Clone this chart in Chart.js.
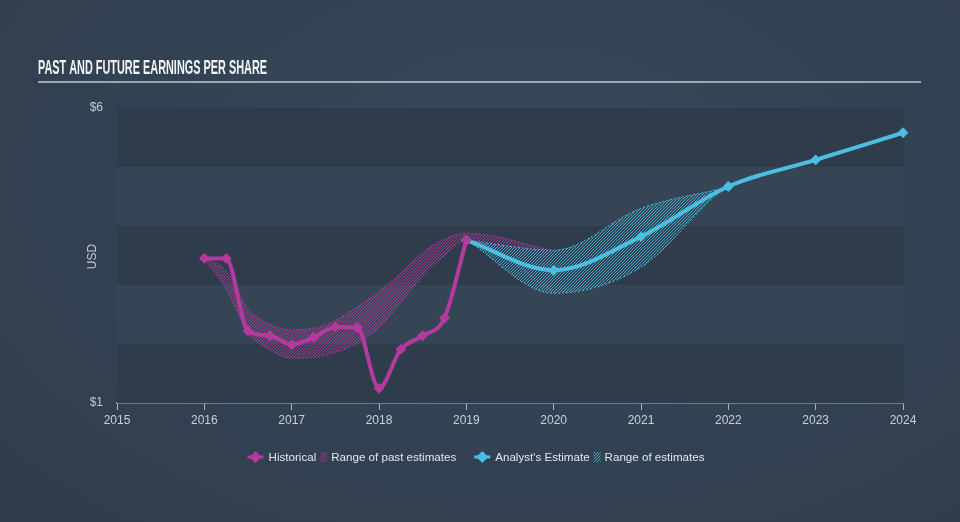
<!DOCTYPE html>
<html>
<head>
<meta charset="utf-8">
<script src="https://cdn.jsdelivr.net/npm/chart.js@4.4.0/dist/chart.umd.min.js"></script>
<style>
  html, body { margin: 0; padding: 0; }
  body {
    width: 960px; height: 522px; overflow: hidden;
    background: radial-gradient(ellipse at 55% 35%, #37495b 0%, #334253 55%, #2f3c4a 100%);
  }
  #wrap { position: relative; width: 960px; height: 522px; }
</style>
</head>
<body>
<div id="wrap"><canvas id="epsChart" width="960" height="522"></canvas></div>
<script>
// values
const histX = [2016.0, 2016.25, 2016.5, 2016.75, 2017.0, 2017.25, 2017.5, 2017.75, 2018.0, 2018.25, 2018.5, 2018.75, 2019.0];
const histEps = [3.45, 3.45, 2.22, 2.14, 1.99, 2.11, 2.29, 2.28, 1.25, 1.91, 2.14, 2.44, 3.76];

const pastRangeX = [2016.0, 2016.25, 2016.5, 2016.75, 2017.0, 2017.25, 2017.5, 2017.75, 2018.0, 2018.25, 2018.5, 2018.75, 2019.0, 2020.0];
const pastLow = [3.45, 2.93, 2.2, 1.9, 1.76, 1.77, 1.86, 2.01, 2.28, 2.7, 3.15, 3.5, 3.76, 2.88];
const pastHigh = [3.45, 3.24, 2.6, 2.33, 2.24, 2.27, 2.4, 2.63, 2.9, 3.2, 3.55, 3.78, 3.88, 3.58];

const estX = [2019, 2020, 2021, 2022, 2023, 2024];
const estEps = [3.76, 3.25, 3.82, 4.67, 5.12, 5.58];
const estLow = [3.76, 2.86, 3.3, 4.67, 5.1, 5.58];
const estHigh = [3.76, 3.59, 4.3, 4.67, 5.15, 5.58];

const yTicks = [1, 6];
const xMin = 2015, xMax = 2024;
const legendLabels = ["Historical", "Range of past estimates", "Analyst's Estimate", "Range of estimates"];
const chartTitle = "PAST AND FUTURE EARNINGS PER SHARE";
const yTitle = "USD";

const HIST = "#b43a9e";
const EST = "#4bbfe3";

function toPoints(xs, ys) {
    return xs.map((x, i) => ({ x: x, y: ys[i] }));
}

function hatch(color) {
    const c = document.createElement("canvas");
    c.width = 3; c.height = 3;
    const g = c.getContext("2d");
    g.strokeStyle = color;
    g.lineWidth = 1;
    g.beginPath();
    g.moveTo(0, 3); g.lineTo(3, 0);
    g.moveTo(-1, 1); g.lineTo(1, -1);
    g.moveTo(2, 4); g.lineTo(4, 2);
    g.stroke();
    return g.createPattern(c, "repeat");
}

const canvasEl = document.getElementById("epsChart");
const canvas = canvasEl.getContext("2d");

const histHatch = hatch("rgba(180,58,158,0.9)");
const estHatch = hatch("rgba(75,191,227,0.85)");

// background bands, title, USD label and legend
const decor = {
    id: "decor",
    beforeDatasetsDraw(chart) {
        const ctx = chart.ctx;
        const area = chart.chartArea;
        const y = chart.scales.y;
        ctx.save();
        for (let v = 1; v < 6; v++) {
            const top = y.getPixelForValue(v + 1);
            const bot = y.getPixelForValue(v);
            ctx.fillStyle = (v % 2 === 1) ? "#2f3c4b" : "#364555";
            ctx.fillRect(area.left, top, area.right - area.left + 1, bot - top);
        }
        ctx.restore();
    },
    afterDraw(chart) {
        const ctx = chart.ctx;
        const area = chart.chartArea;
        ctx.save();

        // title
        ctx.fillStyle = "#f2f4f6";
        ctx.font = "bold 19.5px 'Liberation Sans Narrow', 'Liberation Sans', sans-serif";
        ctx.textBaseline = "alphabetic";
        const tw = ctx.measureText(chartTitle).width;
        ctx.translate(38, 74);
        ctx.scale(229 / tw, 1);
        ctx.fillText(chartTitle, 0, 0);
        ctx.setTransform(1, 0, 0, 1, 0, 0);

        ctx.strokeStyle = "#9ea7b1";
        ctx.lineWidth = 2;
        ctx.beginPath();
        ctx.moveTo(38, 82);
        ctx.lineTo(921, 82);
        ctx.stroke();

        // USD
        ctx.fillStyle = "#c3cad1";
        ctx.font = "12px 'Liberation Sans', sans-serif";
        ctx.textAlign = "center";
        ctx.textBaseline = "middle";
        ctx.translate(93, (area.top + area.bottom) / 2 + 1);
        ctx.rotate(-Math.PI / 2);
        ctx.fillText(yTitle, 0, 0);
        ctx.setTransform(1, 0, 0, 1, 0, 0);

        // legend
        ctx.font = "11.6px 'Liberation Sans', sans-serif";
        ctx.textAlign = "left";
        const kinds = ["marker", "hatch", "marker", "hatch"];
        const colors = [HIST, HIST, EST, EST];
        const pats = [null, histHatch, null, estHatch];
        let total = 0;
        const widths = legendLabels.map((t, i) => {
            const iw = kinds[i] === "marker" ? 16 + 5 : 7 + 4;
            const gap = i === legendLabels.length - 1 ? 0 : (kinds[i + 1] === "marker" ? 18 : 4);
            const w = iw + ctx.measureText(t).width + gap;
            total += w;
            return w;
        });
        let x = 476 - total / 2;
        const ly = 457;
        legendLabels.forEach((t, i) => {
            if (kinds[i] === "marker") {
                ctx.strokeStyle = colors[i];
                ctx.lineWidth = 3;
                ctx.beginPath();
                ctx.moveTo(x, ly); ctx.lineTo(x + 16, ly);
                ctx.stroke();
                ctx.fillStyle = colors[i];
                ctx.beginPath();
                ctx.moveTo(x + 8, ly - 6); ctx.lineTo(x + 14, ly);
                ctx.lineTo(x + 8, ly + 6); ctx.lineTo(x + 2, ly);
                ctx.closePath();
                ctx.fill();
                x += 21;
            } else {
                ctx.fillStyle = pats[i];
                ctx.fillRect(x, ly - 5, 7, 10);
                x += 11;
            }
            ctx.fillStyle = "#e3e7eb";
            ctx.fillText(t, x, ly + 1);
            x += widths[i] - (kinds[i] === "marker" ? 21 : 11);
        });
        ctx.restore();
    }
};

const lineCommon = {
    cubicInterpolationMode: "monotone",
    borderWidth: 4,
    pointStyle: "rectRot",
    pointRadius: 4,
    pointBorderWidth: 2,
    clip: false
};

const rangeCommon = {
    cubicInterpolationMode: "monotone",
    borderWidth: 1,
    borderDash: [2, 2],
    pointRadius: 0
};

new Chart(canvas, {
    type: "line",
    data: {
        datasets: [
            Object.assign({
                label: legendLabels[0],
                data: toPoints(histX, histEps),
                borderColor: HIST,
                backgroundColor: HIST,
                pointBackgroundColor: HIST,
                pointBorderColor: HIST,
                order: 0
            }, lineCommon),
            Object.assign({
                label: legendLabels[2],
                data: toPoints(estX, estEps),
                borderColor: EST,
                backgroundColor: EST,
                pointBackgroundColor: EST,
                pointBorderColor: EST,
                order: 0
            }, lineCommon),
            Object.assign({
                label: "past low",
                data: toPoints(pastRangeX, pastLow),
                borderColor: "rgba(180,58,158,0.9)",
                fill: false,
                order: 2
            }, rangeCommon),
            Object.assign({
                label: legendLabels[1],
                data: toPoints(pastRangeX, pastHigh),
                borderColor: "rgba(180,58,158,0.9)",
                backgroundColor: histHatch,
                fill: "-1",
                order: 2
            }, rangeCommon),
            Object.assign({
                label: "est low",
                data: toPoints(estX, estLow),
                borderColor: "rgba(75,191,227,0.9)",
                fill: false,
                order: 1
            }, rangeCommon),
            Object.assign({
                label: legendLabels[3],
                data: toPoints(estX, estHigh),
                borderColor: "rgba(75,191,227,0.9)",
                backgroundColor: estHatch,
                fill: "-1",
                order: 1
            }, rangeCommon)
        ]
    },
    options: {
        responsive: false,
        animation: false,
        devicePixelRatio: 1,
        layout: { padding: { top: 108, right: 57, left: 0, bottom: 0 } },
        plugins: {
            legend: { display: false },
            tooltip: { enabled: false },
            title: { display: false }
        },
        scales: {
            x: {
                type: "linear",
                min: xMin,
                max: xMax,
                afterFit: s => { s.height = 119; },
                grid: { display: true, drawOnChartArea: false, drawTicks: true, tickLength: 7, color: "#a9b5c2", lineWidth: 1 },
                border: { display: true, color: "#a9b5c2", width: 1.5 },
                ticks: {
                    stepSize: 1,
                    padding: 3,
                    color: "#c8d0d8",
                    font: { family: "'Liberation Sans', sans-serif", size: 12 },
                    maxRotation: 0,
                    callback: v => String(v)
                }
            },
            y: {
                min: 1,
                max: 6,
                afterFit: s => { s.width = 117; },
                afterBuildTicks: s => { s.ticks = yTicks.map(v => ({ value: v })); },
                grid: { display: false, drawTicks: false },
                border: { display: false },
                ticks: {
                    padding: 14,
                    color: "#c3cad1",
                    font: { family: "'Liberation Sans', sans-serif", size: 12 },
                    callback: v => "$" + v
                }
            }
        }
    },
    plugins: [decor]
});
</script>
</body>
</html>
